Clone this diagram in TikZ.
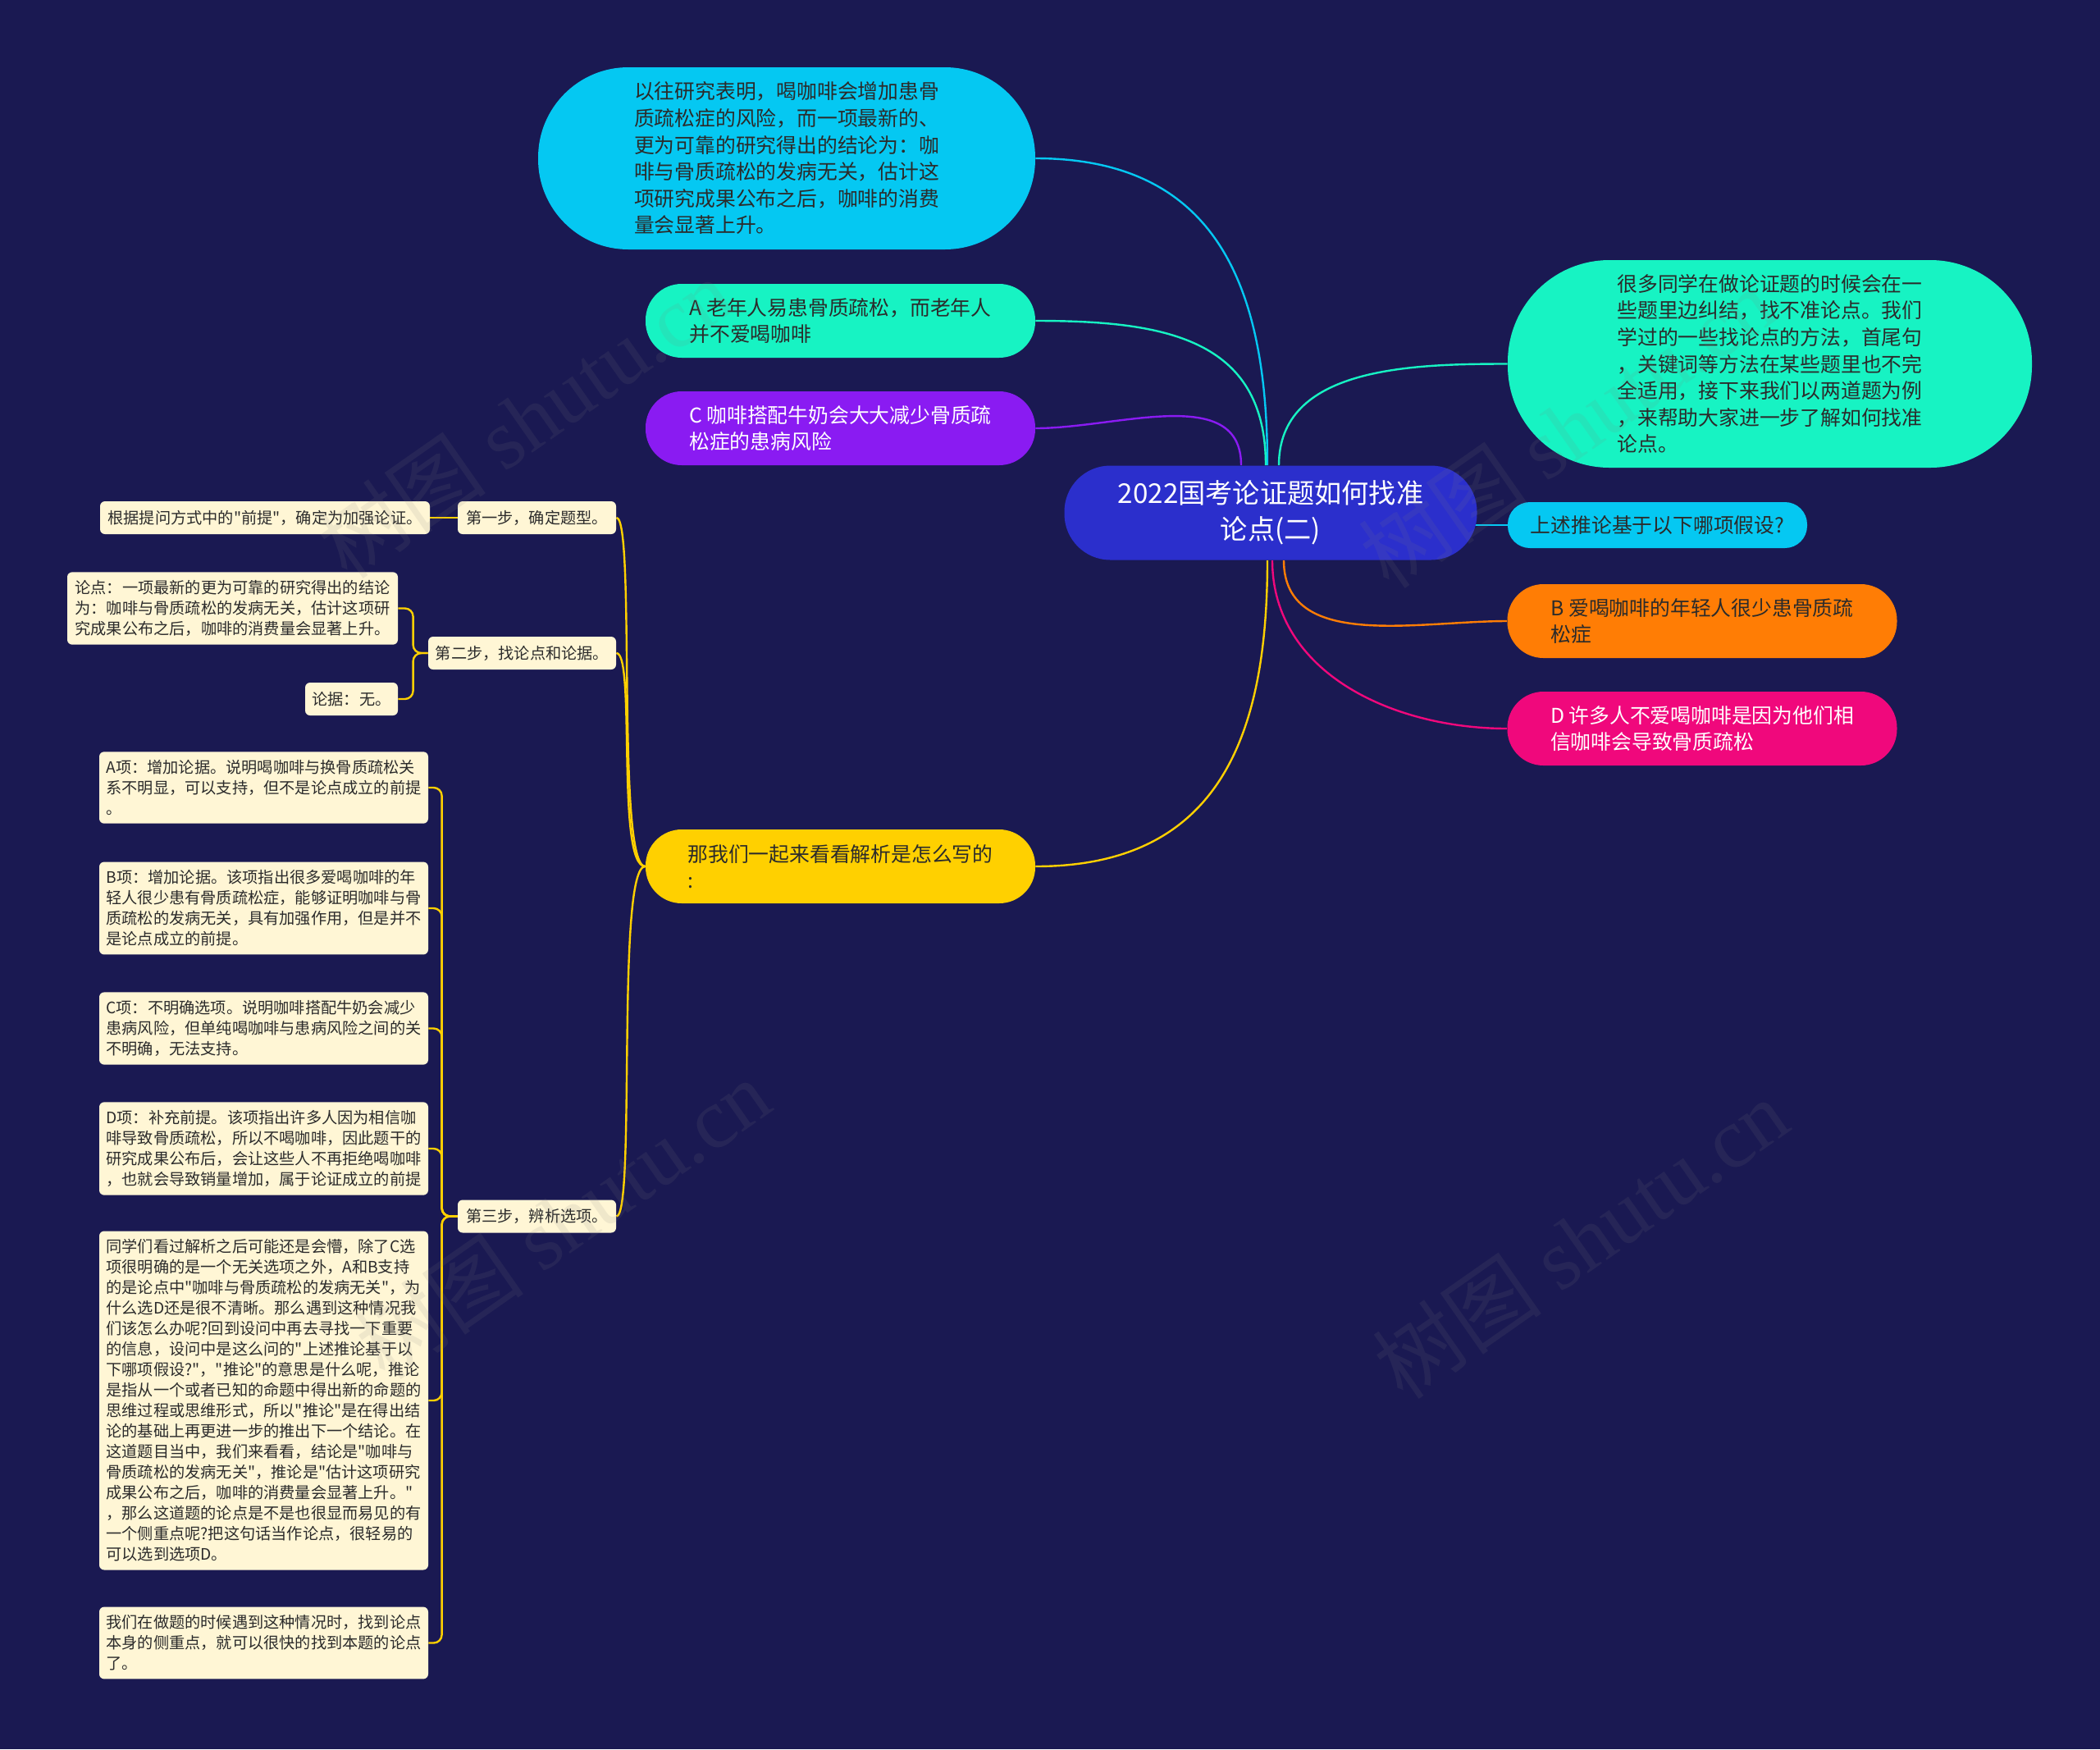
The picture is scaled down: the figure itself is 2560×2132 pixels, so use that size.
\documentclass[tikz,border=0pt]{standalone}
\usepackage{fontspec}
\newfontfamily\cjk{Noto Sans CJK SC}
\newfontfamily\wmserif{Liberation Serif}
\usepackage{tikz}
\usetikzlibrary{backgrounds}
\definecolor{bgnavy}{HTML}{1A1952}
\definecolor{rootblue}{HTML}{2B2FCC}
\definecolor{mapsky}{HTML}{05C8F2}
\definecolor{mapmint}{HTML}{17F3C3}
\definecolor{mapviolet}{HTML}{8A1BF2}
\definecolor{maporange}{HTML}{FF7D05}
\definecolor{maprose}{HTML}{F0087C}
\definecolor{mapgold}{HTML}{FFD000}
\definecolor{cream}{HTML}{FFF6D5}
\definecolor{ink}{HTML}{2B2B2B}
\tikzset{
  bigfont/.style={font=\cjk\fontsize{12.4}{16.3}\selectfont},
  leaffont/.style={font=\cjk\fontsize{9.6}{12.5}\selectfont},
  topicbox/.style={rectangle, rounded corners=28pt, fill=rootblue, text=white, align=center, minimum width=251.5pt, minimum height=57.5pt, inner sep=0pt, font=\cjk\fontsize{16.6}{22}\selectfont},
  pillbox/.style={rectangle, align=left, inner sep=0pt, text=ink, bigfont},
  notebox/.style={pillbox, rounded corners=55pt, minimum width=303pt, minimum height=111pt},
  optbox/.style={pillbox, rounded corners=22pt, minimum width=237.5pt, minimum height=45pt},
  leafbox/.style={rectangle, rounded corners=3pt, fill=cream, text=ink, align=left, inner xsep=3.5pt, inner ysep=5pt, minimum height=20pt, leaffont},
  colbox/.style={leafbox, minimum width=200.5pt},
  maplink/.style={line width=1.2pt},
  treelink/.style={maplink, draw=mapgold, rounded corners=5pt},
  wmark/.style={rotate=35, text=gray, text opacity=0.12, inner sep=0pt, font=\cjk\fontsize{52}{52}\selectfont},
}
\begin{document}
\begin{tikzpicture}[x=0.5pt, y=0.5pt]
  \begin{scope}[on background layer]
    \fill[bgnavy] (0,0) rectangle (2560,-2132);
  \end{scope}
  % centre topic
  \node[topicbox] (root) at (1549,-625) {2022国考论证题如何找准\\论点(二)};
  % branches on the left
  \node[notebox, fill=mapsky] (prev) at (959,-193) {以往研究表明，喝咖啡会增加患骨\\质疏松症的风险，而一项最新的、\\更为可靠的研究得出的结论为：咖\\啡与骨质疏松的发病无关，估计这\\项研究成果公布之后，咖啡的消费\\量会显著上升。};
  \node[optbox, fill=mapmint] (optA) at (1024.5,-391) {A 老年人易患骨质疏松，而老年人\\并不爱喝咖啡};
  \node[optbox, fill=mapviolet, text=white] (optC) at (1024.5,-522) {C 咖啡搭配牛奶会大大减少骨质疏\\松症的患病风险};
  \node[optbox, fill=mapgold] (ana) at (1024.5,-1056) {那我们一起来看看解析是怎么写的\\:};
  % branches on the right
  \node[notebox, fill=mapmint, rounded corners=62pt, minimum width=319.5pt, minimum height=126.5pt] (intro) at (2157.5,-443.5) {很多同学在做论证题的时候会在一\\些题里边纠结，找不准论点。我们\\学过的一些找论点的方法，首尾句\\，关键词等方法在某些题里也不完\\全适用，接下来我们以两道题为例\\，来帮助大家进一步了解如何找准\\论点。};
  \node[pillbox, fill=mapsky, rounded corners=13.5pt, minimum width=182.5pt, minimum height=28pt, align=center] (ask) at (2020.5,-640) {上述推论基于以下哪项假设?};
  \node[optbox, fill=maporange] (optB) at (2075,-757) {B 爱喝咖啡的年轻人很少患骨质疏\\松症};
  \node[optbox, fill=maprose, text=white] (optD) at (2075,-888) {D 许多人不爱喝咖啡是因为他们相\\信咖啡会导致骨质疏松};
  % analysis steps
  \node[leafbox, minimum width=96.5pt] (s1) at (654.5,-631) {第一步，确定题型。};
  \node[leafbox, minimum width=201pt, align=center] (s1a) at (323,-631) {根据提问方式中的"前提"，确定为加强论证。};
  \node[leafbox, minimum width=114.5pt] (s2) at (636.5,-796) {第二步，找论点和论据。};
  \node[leafbox, minimum width=201.5pt] (s2a) at (283.5,-741.5) {论点：一项最新的更为可靠的研究得出的结论\\为：咖啡与骨质疏松的发病无关，估计这项研\\究成果公布之后，咖啡的消费量会显著上升。};
  \node[leafbox, minimum width=56.5pt] (s2b) at (428.5,-852) {论据：无。};
  \node[leafbox, minimum width=96.5pt] (s3) at (654.5,-1482.5) {第三步，辨析选项。};
  \node[colbox] (s3a) at (321.5,-960) {A项：增加论据。说明喝咖啡与换骨质疏松关\\系不明显，可以支持，但不是论点成立的前提\\。};
  \node[colbox] (s3b) at (321.5,-1107) {B项：增加论据。该项指出很多爱喝咖啡的年\\轻人很少患有骨质疏松症，能够证明咖啡与骨\\质疏松的发病无关，具有加强作用，但是并不\\是论点成立的前提。};
  \node[colbox] (s3c) at (321.5,-1253.5) {C项：不明确选项。说明咖啡搭配牛奶会减少\\患病风险，但单纯喝咖啡与患病风险之间的关\\不明确，无法支持。};
  \node[colbox] (s3d) at (321.5,-1400) {D项：补充前提。该项指出许多人因为相信咖\\啡导致骨质疏松，所以不喝咖啡，因此题干的\\研究成果公布后，会让这些人不再拒绝喝咖啡\\，也就会导致销量增加，属于论证成立的前提};
  \node[colbox] (s3e) at (321.5,-1707) {同学们看过解析之后可能还是会懵，除了C选\\项很明确的是一个无关选项之外，A和B支持\\的是论点中"咖啡与骨质疏松的发病无关"，为\\什么选D还是很不清晰。那么遇到这种情况我\\们该怎么办呢?回到设问中再去寻找一下重要\\的信息，设问中是这么问的"上述推论基于以\\下哪项假设?"，"推论"的意思是什么呢，推论\\是指从一个或者已知的命题中得出新的命题的\\思维过程或思维形式，所以"推论"是在得出结\\论的基础上再更进一步的推出下一个结论。在\\这道题目当中，我们来看看，结论是"咖啡与\\骨质疏松的发病无关"，推论是"估计这项研究\\成果公布之后，咖啡的消费量会显著上升。"\\，那么这道题的论点是不是也很显而易见的有\\一个侧重点呢?把这句话当作论点，很轻易的\\可以选到选项D。};
  \node[colbox] (s3f) at (321.5,-2002.5) {我们在做题的时候遇到这种情况时，找到论点\\本身的侧重点，就可以很快的找到本题的论点\\了。};
  \begin{scope}[on background layer]
    \draw[maplink, draw=mapsky] ([xshift=-2pt]root.north) to[out=90, in=0, looseness=1.2] (prev.east);
    \draw[maplink, draw=mapmint] ([xshift=-3pt]root.north) to[out=90, in=0, looseness=1.2] (optA.east);
    \draw[maplink, draw=mapviolet] ([xshift=-18pt]root.north) to[out=90, in=0] (optC.east);
    \draw[maplink, draw=mapmint] ([xshift=5pt]root.north) to[out=90, in=180] (intro.west);
    \draw[maplink, draw=mapsky] (root.center |- ask.west) -- (ask.west);
    \draw[maplink, draw=maporange] ([xshift=8pt]root.south) to[out=-90, in=180] (optB.west);
    \draw[maplink, draw=maprose] ([xshift=1pt]root.south) to[out=-90, in=180] (optD.west);
    \draw[maplink, draw=mapgold] ([xshift=-2pt]root.south) to[out=-90, in=0, looseness=1.2] (ana.east);
    \draw[treelink] (ana.west) .. controls +(-18pt,0) and +(12pt,0) .. (s1.east);
    \draw[treelink] (ana.west) .. controls +(-18pt,0) and +(12pt,0) .. (s2.east);
    \draw[treelink] (ana.west) .. controls +(-18pt,0) and +(12pt,0) .. (s3.east);
    \draw[treelink] (s1.west) -- (s1a.east);
    \draw[treelink] (s2.west) -- ++(-9pt,0) |- (s2a.east);
    \draw[treelink] (s2.west) -- ++(-9pt,0) |- (s2b.east);
    \draw[treelink] (s3.west) -- ++(-9.5pt,0) |- (s3a.east);
    \draw[treelink] (s3.west) -- ++(-9.5pt,0) |- (s3b.east);
    \draw[treelink] (s3.west) -- ++(-9.5pt,0) |- (s3c.east);
    \draw[treelink] (s3.west) -- ++(-9.5pt,0) |- (s3d.east);
    \draw[treelink] (s3.west) -- ++(-9.5pt,0) |- (s3e.east);
    \draw[treelink] (s3.west) -- ++(-9.5pt,0) |- (s3f.east);
  \end{scope}
  % watermark
  \node[wmark] (wm1) at (640,-510) {树图 {\wmserif shutu.cn}};
  \node[wmark] (wm2) at (1910,-522) {树图 {\wmserif shutu.cn}};
  \node[wmark] (wm3) at (686,-1486) {树图 {\wmserif shutu.cn}};
  \node[wmark] (wm4) at (1927,-1510) {树图 {\wmserif shutu.cn}};
\end{tikzpicture}
\end{document}
